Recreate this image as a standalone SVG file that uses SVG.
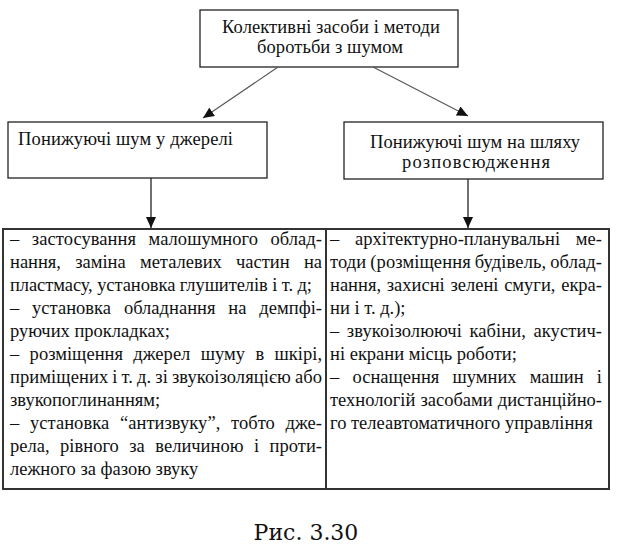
<svg xmlns="http://www.w3.org/2000/svg" width="621" height="560" viewBox="0 0 621 560" font-family="'Liberation Serif', 'Times New Roman', serif">
<defs>
<style>
.box{fill:#fff;stroke:#222;stroke-width:1.3}
.cell{fill:#fff;stroke:#333;stroke-width:2}
.t{font-size:18.5px;fill:#111}
.b{font-size:18.5px;fill:#111}
.c{text-anchor:middle}
.diag{stroke:#555;stroke-width:1.1;fill:none}
.down{stroke:#111;stroke-width:1.2;fill:none}
.cap{font-size:22px;fill:#111;text-anchor:middle}
</style>
<marker id="ah" markerWidth="12" markerHeight="10" refX="11" refY="5" orient="auto" markerUnits="userSpaceOnUse">
<path d="M0,0 L11,5 L0,10 Z" fill="#111"/>
</marker>
</defs>
<rect width="621" height="560" fill="#fff"/>

<g id="n-top">
<rect class="box" x="200" y="10" width="258" height="57"/>
<text class="t c" x="331" y="33" textLength="218">Колективні засоби і методи</text>
<text class="t c" x="330" y="53" textLength="146">боротьби з шумом</text>
</g>

<g id="n-source">
<rect class="box" x="8" y="122" width="259" height="56"/>
<text class="t" x="18" y="145" textLength="215">Понижуючі шум у джерелі</text>
</g>

<g id="n-path">
<rect class="box" x="344" y="122" width="259" height="57"/>
<text class="t c" x="475" y="148" textLength="210">Понижуючі шум на шляху</text>
<text class="t c" x="476" y="168" textLength="148">розповсюдження</text>
</g>

<g id="n-source-methods">
<rect class="cell" x="3" y="229" width="323" height="260"/>
<text class="b" x="10" y="245" word-spacing="7.9" textLength="312">– застосування малошумного облад-</text>
<text class="b" x="10" y="268" word-spacing="9.7" textLength="312">нання, заміна металевих частин на</text>
<text class="b" x="10" y="291" textLength="302">пластмасу, установка глушителів і т. д;</text>
<text class="b" x="10" y="314" word-spacing="8.2" textLength="312">– установка обладнання на демпфі-</text>
<text class="b" x="10" y="337">руючих прокладках;</text>
<text class="b" x="10" y="360" word-spacing="5.7" textLength="312">– розміщення джерел шуму в шкірі,</text>
<text class="b" x="10" y="383" word-spacing="-0.7" textLength="312">приміщених і т. д. зі звукоізоляцією або</text>
<text class="b" x="10" y="406">звукопоглинанням;</text>
<text class="b" x="10" y="429" word-spacing="6" textLength="312">– установка “антизвуку”, тобто дже-</text>
<text class="b" x="10" y="452" word-spacing="5.8" textLength="312">рела, рівного за величиною і проти-</text>
<text class="b" x="10" y="475">лежного за фазою звуку</text>
</g>

<g id="n-path-methods">
<rect class="cell" x="326" y="229" width="283" height="260"/>
<text class="b" x="330" y="245" word-spacing="11.1" textLength="272">– архітектурно-планувальні ме-</text>
<text class="b" x="330" y="268" word-spacing="-0.8" textLength="272">тоди (розміщення будівель, облад-</text>
<text class="b" x="330" y="291" word-spacing="1.1" textLength="272">нання, захисні зелені смуги, екра-</text>
<text class="b" x="330" y="314">ни і т. д.);</text>
<text class="b" x="330" y="337" word-spacing="2.7" textLength="272">– звукоізолюючі кабіни, акустич-</text>
<text class="b" x="330" y="360">ні екрани місць роботи;</text>
<text class="b" x="330" y="383" word-spacing="8.6" textLength="272">– оснащення шумних машин і</text>
<text class="b" x="330" y="406" word-spacing="0.4" textLength="272">технологій засобами дистанційно-</text>
<text class="b" x="330" y="429">го телеавтоматичного управління</text>
</g>

<g id="connectors">
<line class="diag" x1="278" y1="67" x2="203" y2="118" marker-end="url(#ah)"/>
<line class="diag" x1="373" y1="67" x2="468" y2="116" marker-end="url(#ah)"/>
<line class="down" x1="151" y1="178" x2="151" y2="228" marker-end="url(#ah)"/>
<line class="down" x1="468" y1="179" x2="468" y2="228" marker-end="url(#ah)"/>
</g>

<text class="cap" x="306" y="540" font-family="'DejaVu Serif', 'Liberation Serif', serif">Рис. 3.30</text>
</svg>
